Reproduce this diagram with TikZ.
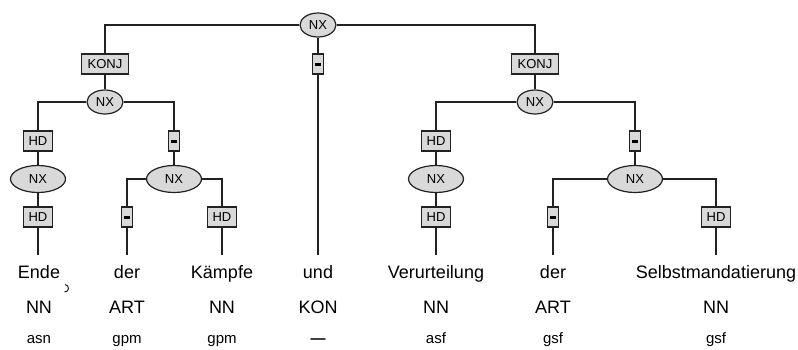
\documentclass[tikz,border=0pt]{standalone}
\usepackage{fontspec}
\setmainfont{Liberation Sans}
\usetikzlibrary{shapes.geometric}
\definecolor{boxgray}{HTML}{D9D9D9}
\definecolor{linec}{HTML}{222222}
\begin{document}
\begin{tikzpicture}[x=1pt,y=-1pt,
  lbl/.style={draw=linec, fill=boxgray, line width=1.2pt, rectangle, inner sep=0pt,
    minimum height=20pt, font=\fontsize{13}{13}\selectfont},
  dashbox/.style={lbl, minimum width=11pt},
  hdbox/.style={lbl, minimum width=29pt},
  konjbox/.style={lbl, minimum width=47pt},
  cat/.style={draw=linec, fill=boxgray, line width=1.2pt, ellipse, inner sep=0pt,
    minimum width=36pt, minimum height=24pt, font=\fontsize{13}{13}\selectfont},
  catw/.style={cat, minimum width=55pt, minimum height=27pt},
  word/.style={anchor=base, inner sep=0pt, font=\fontsize{18}{18}\selectfont},
  morph/.style={anchor=base, inner sep=0pt, font=\fontsize{15}{15}\selectfont},
  edge/.style={draw=linec, line width=1.2pt}]
\useasboundingbox (0,0) rectangle (798,349);
\newcommand{\dsh}{\rule{6pt}{3pt}}
% nodes
\node[cat] (root) at (318,25) {NX};
\node[konjbox] (k1) at (105,64) {KONJ};
\node[dashbox] (d0) at (318,64) {\dsh};
\node[konjbox] (k2) at (535,64) {KONJ};
\node[cat] (nx1) at (105,102) {NX};
\node[cat] (nx2) at (535,102) {NX};
\node[hdbox] (hd1) at (38,141) {HD};
\node[dashbox] (d1) at (174,141) {\dsh};
\node[hdbox] (hd2) at (436,141) {HD};
\node[dashbox] (d2) at (635,141) {\dsh};
\node[catw] (nx3) at (38,179) {NX};
\node[catw] (nx4) at (174,179) {NX};
\node[catw] (nx5) at (436,179) {NX};
\node[catw] (nx6) at (635,179) {NX};
\node[hdbox] (hd3) at (38,217) {HD};
\node[dashbox] (d3) at (127,217) {\dsh};
\node[hdbox] (hd4) at (222,217) {HD};
\node[hdbox] (hd5) at (436,217) {HD};
\node[dashbox] (d4) at (553,217) {\dsh};
\node[hdbox] (hd6) at (716,217) {HD};
% free ends
\coordinate (e1) at (38,255);
\coordinate (e2) at (127,255);
\coordinate (e3) at (222,255);
\coordinate (e4) at (318,255);
\coordinate (e5) at (436,255);
\coordinate (e6) at (553,255);
\coordinate (e7) at (716,255);
% words
\node[word] (w1) at (39,278) {Ende};
\node[word] (w2) at (127,278) {der};
\node[word] (w3) at (222,278) {Kämpfe};
\node[word] (w4) at (318,278) {und};
\node[word] (w5) at (436,278) {Verurteilung};
\node[word] (w6) at (553,278) {der};
\node[word] (w7) at (716,278) {Selbstmandatierung};
\node[word] (t1) at (39,313) {NN};
\node[word] (t2) at (127,313) {ART};
\node[word] (t3) at (222,313) {NN};
\node[word] (t4) at (318,313) {KON};
\node[word] (t5) at (436,313) {NN};
\node[word] (t6) at (553,313) {ART};
\node[word] (t7) at (716,313) {NN};
\node[morph] (m1) at (39,343) {asn};
\node[morph] (m2) at (127,343) {gpm};
\node[morph] (m3) at (222,343) {gpm};
\node[morph] (m4) at (318,343) {\textbf{—}};
\node[morph] (m5) at (436,343) {asf};
\node[morph] (m6) at (553,343) {gsf};
\node[morph] (m7) at (716,343) {gsf};
% small mark
\draw[line width=1pt, linec] (65,284.5) to[out=0,in=90] (68.5,288.5) to[out=-90,in=0] (64.5,292);
% edges
\draw[edge] (root.west) -| (k1.north);
\draw[edge] (root.east) -| (k2.north);
\draw[edge] (root.south) -- (d0.north);
\draw[edge] (d0.south) -- (e4);
\draw[edge] (k1.south) -- (nx1.north);
\draw[edge] (nx1.west) -| (hd1.north);
\draw[edge] (nx1.east) -| (d1.north);
\draw[edge] (hd1.south) -- (nx3.north);
\draw[edge] (nx3.south) -- (hd3.north);
\draw[edge] (hd3.south) -- (e1);
\draw[edge] (d1.south) -- (nx4.north);
\draw[edge] (nx4.west) -| (d3.north);
\draw[edge] (nx4.east) -| (hd4.north);
\draw[edge] (d3.south) -- (e2);
\draw[edge] (hd4.south) -- (e3);
\draw[edge] (k2.south) -- (nx2.north);
\draw[edge] (nx2.west) -| (hd2.north);
\draw[edge] (nx2.east) -| (d2.north);
\draw[edge] (hd2.south) -- (nx5.north);
\draw[edge] (nx5.south) -- (hd5.north);
\draw[edge] (hd5.south) -- (e5);
\draw[edge] (d2.south) -- (nx6.north);
\draw[edge] (nx6.west) -| (d4.north);
\draw[edge] (nx6.east) -| (hd6.north);
\draw[edge] (d4.south) -- (e6);
\draw[edge] (hd6.south) -- (e7);
\end{tikzpicture}
\end{document}
